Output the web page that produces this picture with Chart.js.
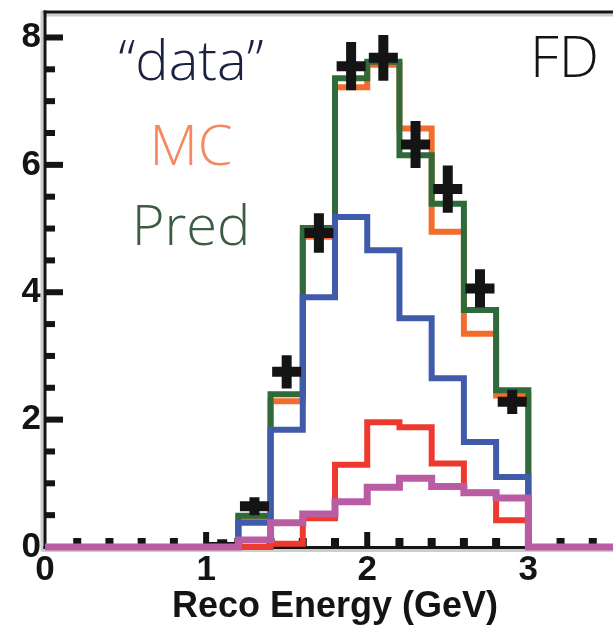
<!DOCTYPE html>
<html lang="en">
<head>
    <meta charset="UTF-8">
    <title>FD Reco Energy</title>
    <script src="https://cdn.jsdelivr.net/npm/chart.js"></script>
    <style>
        html, body { margin: 0; padding: 0; background: #fff; overflow: hidden; }
        #wrap { width: 640px; height: 626px; }
    </style>
</head>
<body>
    <div id="wrap"><canvas id="fdChart" width="640" height="626"></canvas></div>

    <script>
        // Batas bin energi (GeV), 18 bin selebar 0.2
        const binEdges = [0, 0.2, 0.4, 0.6, 0.8, 1.0, 1.2, 1.4, 1.6, 1.8, 2.0, 2.2, 2.4, 2.6, 2.8, 3.0, 3.2, 3.4, 3.6];

        // Isi histogram per bin
        const mcCounts    = [0, 0, 0, 0, 0, 0, 0.45, 2.29, 4.87, 7.22, 7.57, 6.57, 4.95, 3.35, 2.38, 0, 0, 0];
        const predCounts  = [0, 0, 0, 0, 0, 0, 0.49, 2.40, 5.01, 7.36, 7.62, 6.15, 5.39, 3.72, 2.46, 0, 0, 0];
        const blueCounts  = [0, 0, 0, 0, 0, 0, 0.38, 1.84, 3.92, 5.18, 4.66, 3.59, 2.65, 1.65, 1.10, 0, 0, 0];
        const redCounts   = [0, 0, 0, 0, 0, 0, 0.00, 0.05, 0.45, 1.29, 1.96, 1.88, 1.31, 0.85, 0.42, 0, 0, 0];
        const pinkCounts  = [0, 0, 0, 0, 0, 0, 0.11, 0.38, 0.52, 0.71, 0.94, 1.08, 0.95, 0.85, 0.77, 0, 0, 0];

        // Titik "data" dengan error bar
        const dataX   = [1.1, 1.3, 1.5, 1.7, 1.9, 2.1, 2.3, 2.5, 2.7, 2.9];
        const dataY   = [0.00, 0.64, 2.75, 4.93, 7.55, 7.68, 6.32, 5.62, 4.06, 2.28];
        const dataErr = [0.12, 0.14, 0.26, 0.31, 0.38, 0.36, 0.37, 0.37, 0.30, 0.19];
        const dataHalfWidth = 0.09;

        // Label sumbu
        const xTickLabels = [0, 1, 2, 3];
        const yTickLabels = [0, 2, 4, 6, 8];
        const xTitle = 'Reco Energy (GeV)';

        // Teks keterangan di dalam plot
        const legendNames  = ['\u201Cdata\u201D', 'MC', 'Pred'];
        const legendColors = ['#1d2140', '#f5885f', '#3b5c42'];
        const regionName = 'FD';

        // Ubah isi bin jadi titik tangga (stepped)
        function histPoints(counts) {
            const pts = counts.map((v, i) => ({ x: binEdges[i], y: v }));
            pts.push({ x: binEdges[binEdges.length - 1], y: counts[counts.length - 1] });
            return pts;
        }

        // Error bar sebagai potongan garis, dipisah dengan null
        function crossPoints() {
            const pts = [];
            dataX.forEach((x, i) => {
                const y = dataY[i], e = dataErr[i];
                pts.push({ x: x - dataHalfWidth, y: y }, { x: x + dataHalfWidth, y: y }, { x: x, y: null });
                pts.push({ x: x, y: y - e }, { x: x, y: y + e }, { x: x, y: null });
            });
            return pts;
        }

        function histDataset(label, counts, color, order, width) {
            return {
                label: label,
                data: histPoints(counts),
                borderColor: color,
                borderWidth: width,
                stepped: true,
                pointRadius: 0,
                fill: false,
                clip: false,
                order: order,
                borderJoinStyle: 'miter',
                borderCapStyle: 'butt'
            };
        }

        // Bingkai dan tick ke arah dalam
        const frameTicks = {
            id: 'frameTicks',
            beforeDatasetsDraw(chart) {
                const { ctx, chartArea: a, scales: { x, y } } = chart;
                ctx.save();
                ctx.fillStyle = '#cdcdcd';
                ctx.fillRect(a.left - 4.5, a.top - 1.5, 3, a.bottom - a.top + 6);
                ctx.fillRect(a.left, a.top + 1.5, a.right - a.left, 3);
                ctx.fillRect(a.left - 3, a.bottom + 2, a.right - a.left + 3, 3);

                ctx.fillStyle = '#141414';
                ctx.fillRect(a.left - 1.5, a.top - 1.5, 3, a.bottom - a.top + 3.5);
                ctx.fillRect(a.left - 1.5, a.top - 1.5, a.right - a.left + 1.5, 3);
                ctx.fillRect(a.left - 1.5, a.bottom - 1, a.right - a.left + 1.5, 3);

                // tick sumbu y: mayor tiap 2, minor tiap 0.5
                for (let v = 0.5; v <= 8.01; v += 0.5) {
                    const py = y.getPixelForValue(v);
                    const major = Math.abs(v / 2 - Math.round(v / 2)) < 1e-6;
                    ctx.fillRect(a.left, py - 3, major ? 18 : 10, 6);
                }
                // tick sumbu x: mayor tiap 1, minor tiap 0.2
                for (let k = 1; k < 18; k++) {
                    const v = k * 0.2;
                    const px = x.getPixelForValue(v);
                    const major = k % 5 === 0;
                    if (major) ctx.fillRect(px - 3, a.bottom - 15, 6, 15);
                    else ctx.fillRect(px - 4, a.bottom - 9, 8, 9);
                }
                ctx.restore();
            },
            afterDraw(chart) {
                const { ctx, chartArea: a } = chart;
                ctx.save();
                ctx.textBaseline = 'alphabetic';
                ctx.font = '300 56px "Open Sans"';
                ctx.textAlign = 'center';
                const baselines = [80, 165, 245];
                legendNames.forEach((t, i) => {
                    ctx.fillStyle = legendColors[i];
                    ctx.fillText(t, a.left + 146, baselines[i]);
                });
                ctx.textAlign = 'left';
                ctx.fillStyle = '#141414';
                ctx.font = '300 57px "Open Sans"';
                ctx.fillText(regionName, a.left + 485, 77);
                ctx.restore();
            }
        };

        const tickFont = { family: '"Liberation Sans", Arial, sans-serif', size: 35, weight: 'bold' };

        const ctx = document.getElementById('fdChart').getContext('2d');
        new Chart(ctx, {
            type: 'line',
            data: {
                datasets: [
                    histDataset('MC', mcCounts, '#f26d2d', 6, 6),
                    histDataset('Pred', predCounts, '#2f6a3a', 5, 6),
                    histDataset('blue', blueCounts, '#3f5ba9', 4, 6),
                    histDataset('red', redCounts, '#ee3a2e', 3, 6),
                    {
                        label: 'data',
                        data: crossPoints(),
                        borderColor: '#141414',
                        borderWidth: 10,
                        pointRadius: 0,
                        spanGaps: false,
                        fill: false,
                        clip: 0,
                        order: 2,
                        borderCapStyle: 'butt'
                    },
                    histDataset('pink', pinkCounts, '#b95ca2', 1, 7)
                ]
            },
            options: {
                responsive: false,
                animation: false,
                devicePixelRatio: 1,
                events: [],
                layout: { padding: { top: 12, left: 0, right: 15, bottom: 0 } },
                plugins: { legend: { display: false }, tooltip: { enabled: false } },
                scales: {
                    x: {
                        type: 'linear',
                        min: 0,
                        max: 3.6,
                        grid: { display: false, drawTicks: false },
                        border: { display: false },
                        ticks: { font: tickFont, color: '#141414', padding: 2, maxRotation: 0, autoSkip: false },
                        afterBuildTicks: s => { s.ticks = xTickLabels.map(v => ({ value: v })); },
                        afterFit: s => { s.height = 79; s.paddingLeft = 0; s.paddingRight = 0; },
                        title: {
                            display: true,
                            text: xTitle,
                            color: '#141414',
                            font: { family: '"Liberation Sans", Arial, sans-serif', size: 36, weight: 'bold', lineHeight: 1.05 },
                            padding: { top: 0, bottom: 0 }
                        }
                    },
                    y: {
                        type: 'linear',
                        min: 0,
                        max: 8.4,
                        grid: { display: false, drawTicks: false },
                        border: { display: false },
                        ticks: { font: tickFont, color: '#141414', padding: 4 },
                        afterBuildTicks: s => { s.ticks = yTickLabels.map(v => ({ value: v })); },
                        afterFit: s => { s.width = 45; s.paddingTop = 0; s.paddingBottom = 0; }
                    }
                }
            },
            plugins: [frameTicks]
        });
    </script>
</body>
</html>
